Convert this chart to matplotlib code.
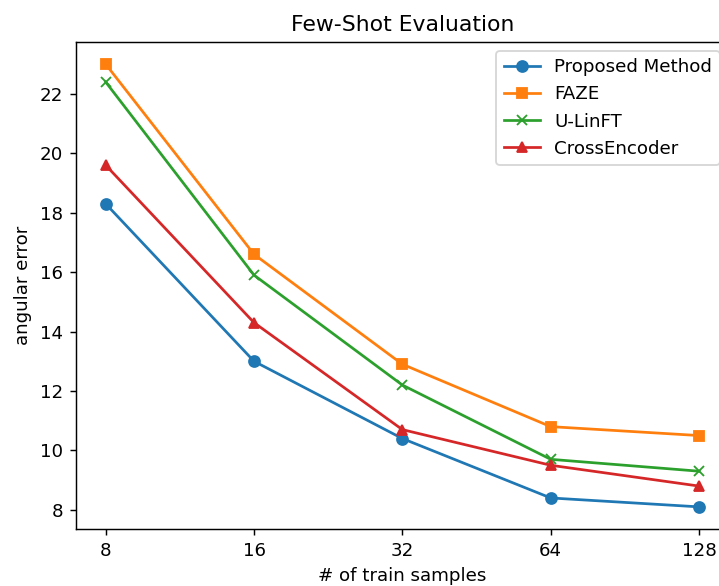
import matplotlib
matplotlib.use("Agg")
import matplotlib.pyplot as plt

train_samples = ["8", "16", "32", "64", "128"]
proposed = [18.3, 13.0, 10.4, 8.4, 8.1]
faze = [23.0, 16.6, 12.9, 10.8, 10.5]
ulinft = [22.4, 15.9, 12.2, 9.7, 9.3]
crossenc = [19.6, 14.3, 10.7, 9.5, 8.8]

DPI = 131
fig = plt.figure(figsize=(719/DPI, 586/DPI), dpi=DPI)
ax = fig.add_axes([76/719, 1-529/586, 652.7/719, (529-42)/586])
x = list(range(len(train_samples)))
ax.plot(x, proposed, marker="o", label="Proposed Method")
ax.plot(x, faze, marker="s", label="FAZE")
ax.plot(x, ulinft, marker="x", label="U-LinFT")
ax.plot(x, crossenc, marker="^", label="CrossEncoder")
ax.set_xticks(x)
ax.set_xticklabels(train_samples)
ax.set_xlabel("# of train samples")
ax.set_ylabel("angular error")
ax.set_title("Few-Shot Evaluation")
ax.legend(loc="upper right")
fig.savefig("out.png", dpi=DPI)
